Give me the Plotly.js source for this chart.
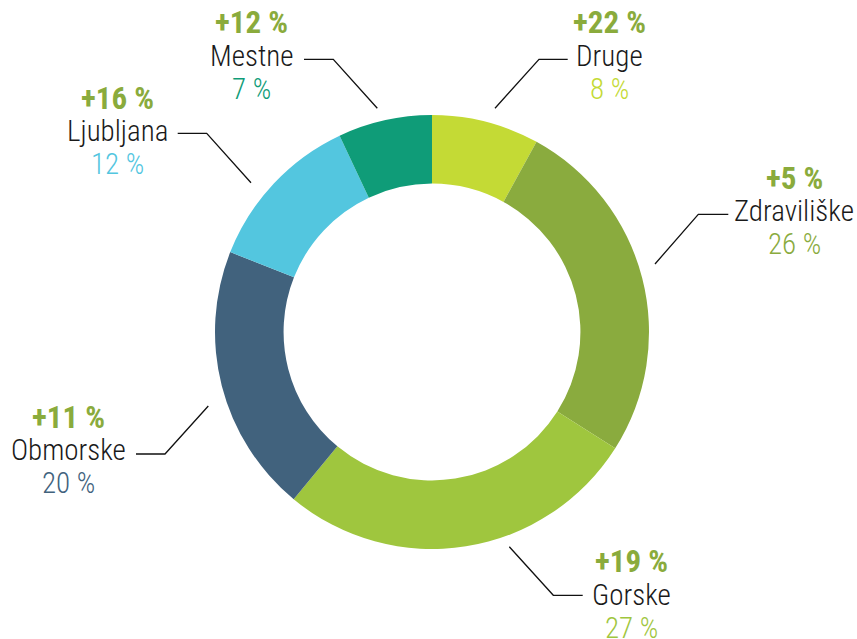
<!DOCTYPE html>
<html>
<head>
<meta charset="utf-8">
<script src="https://cdn.plot.ly/plotly-3.0.1.min.js"></script>
<style>html,body{margin:0;padding:0;background:#fff;}#chart{width:857px;height:639px;}</style>
</head>
<body>
<div id="chart"></div>
<script>
// Data
const categories = ['Druge', 'Zdraviliške', 'Gorske', 'Obmorske', 'Ljubljana', 'Mestne'];
const shares = [8, 26, 27, 20, 12, 7];
const growth = [22, 5, 19, 11, 16, 12];

// Styling
const colors = ['#c4da35', '#8aab3e', '#9fc63e', '#41627d', '#53c6df', '#0f9c78'];
const growthColor = '#8aab3c';
const W = 857, H = 639;
// label middle-line centres (px) and leader line paths (px)
const labelPos = [[609.5, 55.5], [794, 211], [631.7, 594.5], [68.8, 450], [117, 131], [251.7, 55.5]];
const leaders = [
  [[567.7, 59.3], [539, 59.3], [495, 108.3]],
  [[728.3, 214.3], [698.3, 214.3], [655, 264]],
  [[582.7, 595.3], [553.3, 595.3], [509.3, 546.7]],
  [[136, 454], [165, 454], [208.3, 406]],
  [[177.7, 133.3], [206.7, 133.3], [251, 182.7]],
  [[304, 59.3], [333.3, 59.3], [377.3, 108.3]]
];
const FONT = 'Roboto Condensed, Liberation Sans Narrow, DejaVu Sans Condensed, Roboto, sans-serif';
const px = x => x / W, py = y => 1 - y / H;

const cx = 432, cy = 332, R = 217;
const trace = {
  type: 'pie',
  labels: categories,
  values: shares,
  sort: false,
  direction: 'clockwise',
  rotation: 0,
  hole: 0.684,
  textinfo: 'none',
  hoverinfo: 'label+percent',
  marker: {colors: colors, line: {width: 0}},
  showlegend: false,
  domain: {x: [px(cx - R), px(cx + R)], y: [py(cy + R), py(cy - R)]}
};

const annotations = [];
const shapes = [];
categories.forEach((name, i) => {
  const [x, y] = labelPos[i];
  annotations.push({xref: 'paper', yref: 'paper', x: px(x), y: py(y - 33), text: '<b>+' + growth[i] + ' %</b>',
    showarrow: false, xanchor: 'center', yanchor: 'middle', font: {family: FONT, size: 31, color: growthColor}});
  annotations.push({xref: 'paper', yref: 'paper', x: px(x), y: py(y), text: name,
    showarrow: false, xanchor: 'center', yanchor: 'middle', font: {family: FONT, size: 29, weight: 300, color: '#1a1a1a'}});
  annotations.push({xref: 'paper', yref: 'paper', x: px(x), y: py(y + 33), text: shares[i] + ' %',
    showarrow: false, xanchor: 'center', yanchor: 'middle', font: {family: FONT, size: 29, weight: 300, color: colors[i]}});
  const p = leaders[i];
  shapes.push({type: 'path', xref: 'paper', yref: 'paper',
    path: 'M ' + p.map(q => px(q[0]) + ',' + py(q[1])).join(' L '),
    line: {color: '#111', width: 1.3}});
});

const layout = {
  width: W, height: H,
  margin: {l: 0, r: 0, t: 0, b: 0},
  paper_bgcolor: '#fff',
  annotations: annotations,
  shapes: shapes
};
Plotly.newPlot('chart', [trace], layout, {displayModeBar: false, staticPlot: true});
</script>
</body>
</html>
